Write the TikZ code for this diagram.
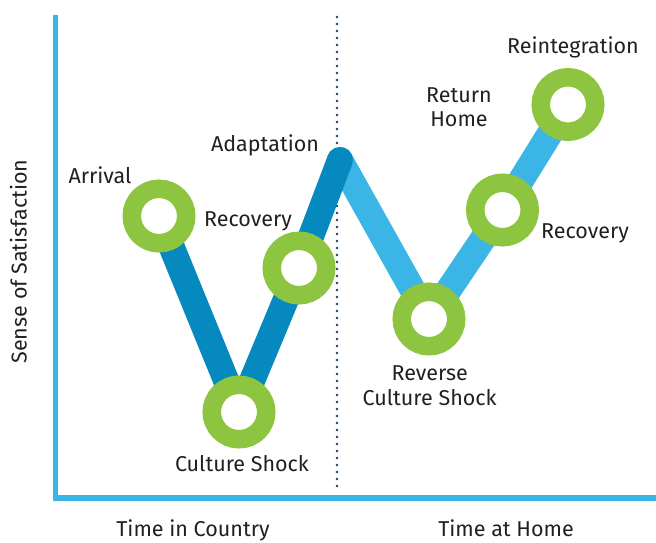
\documentclass[tikz,border=0pt]{standalone}
\usepackage{fontspec}
\setmainfont{Fira Sans}
\definecolor{lightblue}{HTML}{3BB4E6}
\definecolor{darkblue}{HTML}{0689BE}
\definecolor{ringgreen}{HTML}{8DC540}
\definecolor{txt}{HTML}{231F20}
\definecolor{dotnavy}{HTML}{1B3F5E}
\begin{document}
\begin{tikzpicture}[x=1pt,y=-1pt,
  ring/.style={circle, draw=ringgreen, line width=18.5pt, fill=white, minimum size=54.5pt, inner sep=0pt},
  lbl/.style={text=txt, font=\fontsize{21.5}{24.5}\selectfont, anchor=base, align=center, inner sep=0pt},
  leg/.style={line width=26pt, line cap=round, line join=round},
  axis/.style={lightblue, line width=5.5pt, line join=miter},
  divider/.style={dotnavy, line width=2.6pt, line cap=round, dash pattern=on 0pt off 7pt}
]
\useasboundingbox (0,0) rectangle (656,542);
% axes
\coordinate (ytop) at (55.3,15);
\coordinate (origin) at (55.3,498);
\coordinate (xend) at (658,498);
\draw[axis] (ytop) -- (origin) -- (xend);
% divider
\coordinate (dtop) at (337,17);
\coordinate (dbot) at (337,490);
\draw[divider] (dtop) -- (dbot);
% points
\coordinate (arr) at (159,216);
\coordinate (cs) at (239,412);
\coordinate (rec) at (299,268);
\coordinate (adp) at (340,160);
\coordinate (rcs) at (429,319);
\coordinate (rec2) at (502.5,210);
\coordinate (rei) at (568,104.5);
% lines
\draw[leg, lightblue] (adp) -- (rcs) -- (rec2) -- (rei);
\draw[leg, darkblue] (arr) -- (cs) -- (rec) -- (adp);
% rings
\node[ring] (arrN) at (arr) {};
\node[ring] (csN) at (cs) {};
\node[ring] (recN) at (rec) {};
\node[ring] (rcsN) at (rcs) {};
\node[ring] (rec2N) at (rec2) {};
\node[ring] (reiN) at (rei) {};
% labels
\node[lbl] (tArr) at (100,183.3) {Arrival};
\node[lbl] (tRec) at (248,226) {Recovery};
\node[lbl] (tAdp) at (265,151.7) {Adaptation};
\node[lbl] (tCs) at (242,471) {Culture Shock};
\node[lbl] (tRcs) at (429.7,405) {Reverse\\Culture Shock};
\node[lbl] (tRet) at (459,126.5) {Return\\Home};
\node[lbl] (tRei) at (573,53.3) {Reintegration};
\node[lbl] (tRec2) at (585,238.3) {Recovery};
\node[lbl] (tX1) at (193,536) {Time in Country};
\node[lbl] (tX2) at (506,536) {Time at Home};
\node[lbl, rotate=90] (tY) at (26.7,261.5) {Sense of Satisfaction};
\end{tikzpicture}
\end{document}
